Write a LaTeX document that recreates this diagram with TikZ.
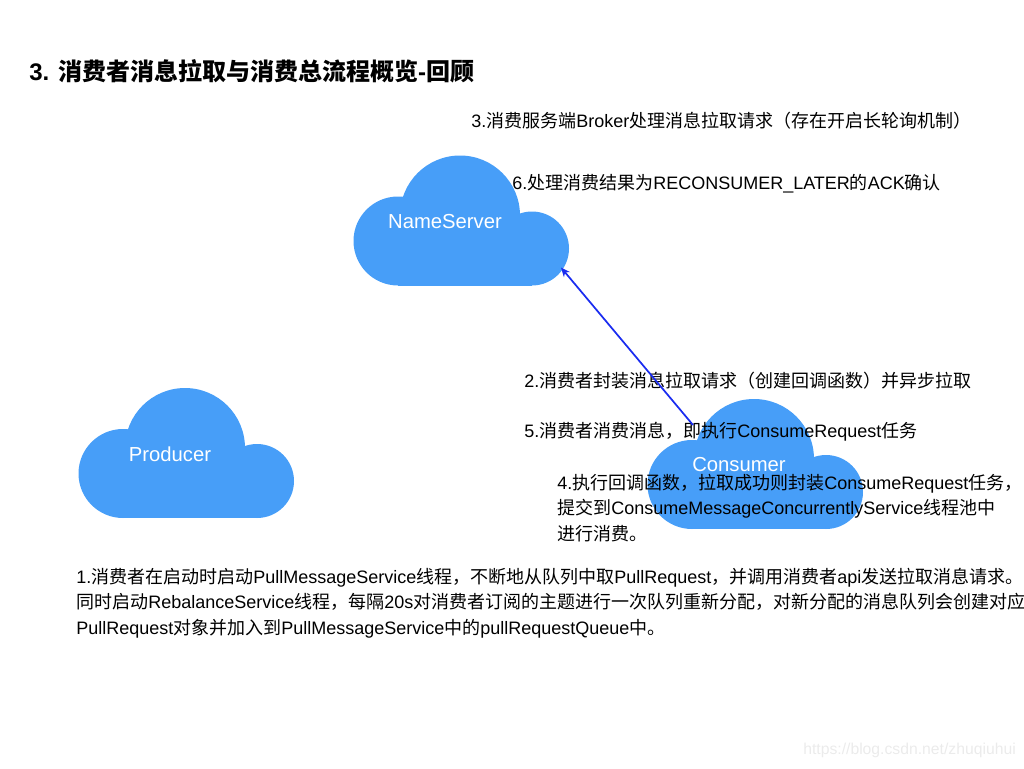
\documentclass[tikz,border=0pt]{standalone}
\usepackage{fontspec}
\usetikzlibrary{arrows.meta}
\setmainfont{Liberation Sans}
\newfontfamily\zhfont{Noto Sans CJK SC}
\newcommand{\zh}[1]{{\zhfont #1}}
\definecolor{cloudblue}{HTML}{479EF8}
\definecolor{arrowblue}{HTML}{1A2CF0}
\tikzset{
  note/.style={anchor=west, inner sep=0pt, align=left, text=black,
    font=\fontsize{13.5}{19.2}\selectfont},
  cloudlabel/.style={text=white, inner sep=0pt, font=\fontsize{15.2}{18}\selectfont},
  pics/bluecloud/.style={code={
    \fill[cloudblue] (44,85.5) circle (44.5 and 44.5);
    \fill[cloudblue] (106,60) circle (60 and 60);
    \fill[cloudblue] (178,93) circle (37 and 37);
    \fill[cloudblue] (44,70) rectangle (178,130);
    \node[cloudlabel] (-label) at (91,66) {#1};
    \coordinate (-tip) at (207,112);
    \coordinate (-tail) at (45,26);
  }}
}
\begin{document}
\begin{tikzpicture}[x=0.75pt,y=-0.75pt]
\useasboundingbox (0,0) rectangle (1024,768);

\pic (nameserver) at (354,155.5) {bluecloud=NameServer};
\pic (producer) at (79,388) {bluecloud=Producer};
\pic (consumer) at (648,399) {bluecloud=Consumer};

\node (title) at (29,71) [anchor=west,inner sep=0pt,font=\fontsize{18}{22}\selectfont\bfseries]
  {3. {\zhfont\bfseries 消费者消息拉取与消费总流程概览}-{\zhfont\bfseries 回顾}};

\node (step3) at (471,121) [note] {3.\zh{消费服务端}Broker\zh{处理消息拉取请求（存在开启长轮询机制）}};
\node (step6) at (512,184) [note] {6.\zh{处理消费结果为}RECONSUMER\_LATER\zh{的}ACK\zh{确认}};
\node (step2) at (524,381) [note] {2.\zh{消费者封装消息拉取请求（创建回调函数）并异步拉取}};
\node (step5) at (524,432) [note] {5.\zh{消费者消费消息，即执行}ConsumeRequest\zh{任务}};
\node (step4) at (557,508) [note] {4.\zh{执行回调函数，拉取成功则封装}ConsumeRequest\zh{任务，}\\
  \zh{提交到}ConsumeMessageConcurrentlyService\zh{线程池中}\\
  \zh{进行消费。}};
\node (step1) at (76,603) [note] {1.\zh{消费者在启动时启动}PullMessageService\zh{线程，不断地从队列中取}PullRequest\zh{，并调用消费者}api\zh{发送拉取消息请求。}\\
  \zh{同时启动}RebalanceService\zh{线程，每隔}20s\zh{对消费者订阅的主题进行一次队列重新分配，对新分配的消息队列会创建对应}\\
  PullRequest\zh{对象并加入到}PullMessageService\zh{中的}pullRequestQueue\zh{中。}};

\draw[arrowblue,line width=1.3pt,-{Stealth[length=7pt,width=6pt]}] (consumer-tail) -- (nameserver-tip);

\node (mark) at (803,750) [anchor=west,inner sep=0pt,text=black!8,font=\fontsize{11.8}{14}\selectfont] {https://blog.csdn.net/zhuqiuhui};

\end{tikzpicture}
\end{document}
